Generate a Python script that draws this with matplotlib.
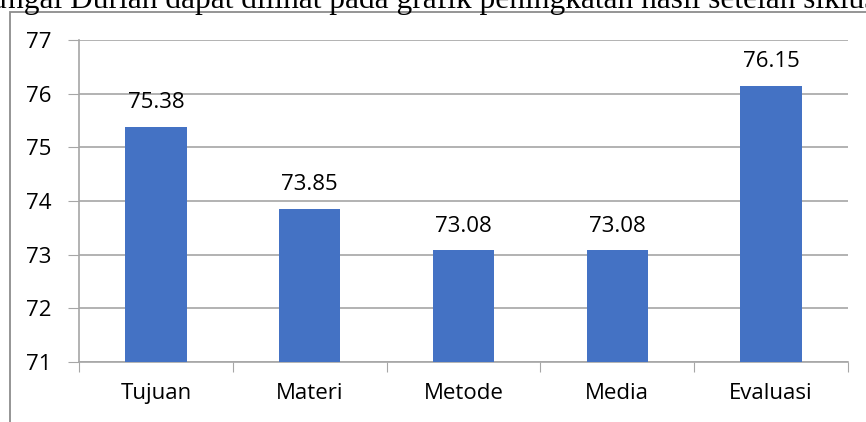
import matplotlib.pyplot as plt
from matplotlib.patches import Rectangle

categories = ['Tujuan', 'Materi', 'Metode', 'Media', 'Evaluasi']
values = [75.38, 73.85, 73.08, 73.08, 76.15]
yticks = [71, 72, 73, 74, 75, 76, 77]

plt.rcParams['font.family'] = ['Open Sans', 'DejaVu Sans']

W, H = 866, 422
fig = plt.figure(figsize=(W / 100, H / 100), dpi=100)

# cut-off line of document text above the chart
fig.text(8 / W, 1 - 8 / H, 'su', family='Liberation Serif', fontsize=22.6,
         va='baseline', ha='right')
fig.text(8 / W, 1 - 8 / H, 'ngai Durian dapat dilihat pada grafik peningkatan hasil setelah siklus',
         family='Liberation Serif', fontsize=22.6, va='baseline', ha='left')

# chart frame (runs past the right and bottom edges)
fig.add_artist(Rectangle((10 / W, -0.1), 1.0, 1 - 12 / H + 0.1,
                         transform=fig.transFigure, fill=False,
                         edgecolor='#8c8c8c', linewidth=1.3))

ax = fig.add_axes([79 / W, 1 - 362 / H, (848 - 79) / W, (362 - 40) / H])
x = range(len(categories))
ax.bar(x, values, width=0.4, color='#4472c4', zorder=3)
for xi, v in zip(x, values):
    ax.text(xi, v + 0.35, f'{v:.2f}', ha='center', va='baseline', fontsize=16)

ax.set_xlim(-0.5, len(categories) - 0.5)
ax.set_ylim(71, 77)
ax.set_yticks(yticks)
ax.tick_params(axis='y', length=8, color='#a6a6a6', labelsize=16, pad=12)
ax.set_xticks([i - 0.5 for i in range(len(categories) + 1)])
ax.set_xticklabels([])
ax.tick_params(axis='x', length=7, color='#a6a6a6', direction='out')
ax.set_xticks(list(x), minor=True)
ax.set_xticklabels(categories, minor=True)
ax.tick_params(axis='x', which='minor', length=0, labelsize=16, pad=15)
ax.grid(axis='y', color='#a6a6a6', linewidth=1.2, zorder=0)
for s in ['top', 'right']:
    ax.spines[s].set_visible(False)
for s in ['left', 'bottom']:
    ax.spines[s].set_color('#a6a6a6')
    ax.spines[s].set_linewidth(1.2)

fig.savefig('out.png', dpi=100)
